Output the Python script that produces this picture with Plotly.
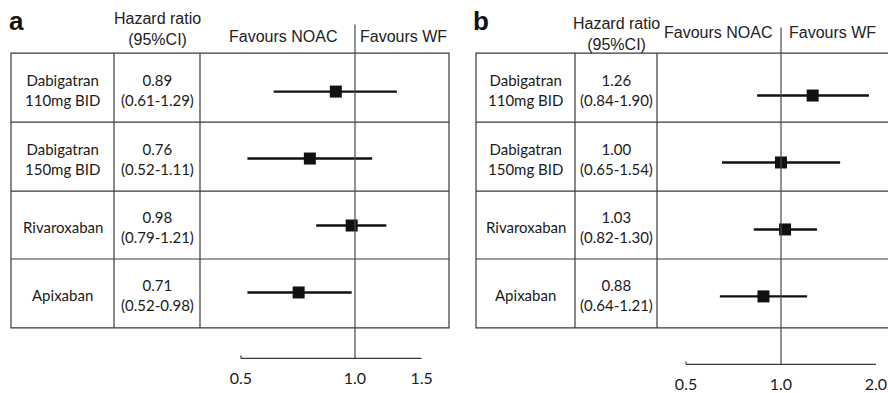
import plotly.graph_objects as go

# ---------------- data ----------------
drugs = ["Dabigatran<br>110mg BID", "Dabigatran<br>150mg BID", "Rivaroxaban", "Apixaban"]
rows = [0, 1, 2, 3]

hr_a = [0.89, 0.76, 0.98, 0.71]
lo_a = [0.61, 0.52, 0.79, 0.52]
hi_a = [1.29, 1.11, 1.21, 0.98]

hr_b = [1.26, 1.00, 1.03, 0.88]
lo_b = [0.84, 0.65, 0.82, 0.64]
hi_b = [1.90, 1.54, 1.30, 1.21]

ticks_a = [0.5, 1.0, 1.5]
ticks_b = [0.5, 1.0, 2.0]
ticktext_a = ["0.5", "1.0", "1.5"]
ticktext_b = ["0.5", "1.0", "2.0"]

header_hr = "Hazard ratio<br>(95%CI)"
fav_left = "Favours NOAC"
fav_right = "Favours WF"
panel_labels = ["a", "b"]

# ---------------- layout helpers ----------------
W, H = 888, 393
def px(x): return x / W
def py(y): return 1 - y / H

ARIAL = "Liberation Sans, Arial, sans-serif"
CALI = "Lato, Carlito, Calibri, sans-serif"
INK = "#1a1a1a"
LINE = "#3a3a3a"

fig = go.Figure()

def hr_labels(hr, lo, hi):
    return [f"{h:.2f}<br>({l:.2f}-{u:.2f})" for h, l, u in zip(hr, lo, hi)]

for hr, lo, hi, xa, ya in [(hr_a, lo_a, hi_a, "x", "y"), (hr_b, lo_b, hi_b, "x2", "y2")]:
    fig.add_trace(go.Scatter(
        x=hr, y=rows, mode="markers", xaxis=xa, yaxis=ya,
        marker=dict(symbol="square", size=12, color="#111111", line=dict(width=0)),
        error_x=dict(type="data", symmetric=False,
                     array=[u - h for h, u in zip(hr, hi)],
                     arrayminus=[h - l for h, l in zip(hr, lo)],
                     width=0, thickness=2.4, color="#111111"),
        showlegend=False, hoverinfo="skip"))

row_bounds = [54, 124, 194, 263, 333]
row_centers = [(row_bounds[i] + row_bounds[i + 1]) / 2 for i in range(4)]

shapes = []
annotations = []

panels = [
    dict(left=11, c1=114, c2=200, right=449, xref="x", ticks=ticks_a, ref_top=25, axis_y=364,
         label_x=16, hdr_y=29.5, fav_y=37, fav_r=339, fav_l=358,
         hr=hr_a, lo=lo_a, hi=hi_a),
    dict(left=476, c1=575, c2=657, right=891, xref="x2", ticks=ticks_b, ref_top=28, axis_y=370,
         label_x=481, hdr_y=34.5, fav_y=33.5, fav_r=774, fav_l=787,
         hr=hr_b, lo=lo_b, hi=hi_b),
]

for p, lab in zip(panels, panel_labels):
    # table frame
    shapes.append(dict(type="rect", xref="paper", yref="paper",
                       x0=px(p["left"]), x1=px(p["right"]), y0=py(row_bounds[-1]), y1=py(row_bounds[0]),
                       line=dict(color=LINE, width=1.2)))
    for cx in (p["c1"], p["c2"]):
        shapes.append(dict(type="line", xref="paper", yref="paper",
                           x0=px(cx), x1=px(cx), y0=py(row_bounds[-1]), y1=py(row_bounds[0]),
                           line=dict(color=LINE, width=1.2)))
    for ry in row_bounds[1:-1]:
        shapes.append(dict(type="line", xref="paper", yref="paper",
                           x0=px(p["left"]), x1=px(p["right"]), y0=py(ry), y1=py(ry),
                           line=dict(color=LINE, width=1.2)))
    # reference line at HR = 1
    shapes.append(dict(type="line", xref=p["xref"], yref="paper",
                       x0=1, x1=1, y0=py(p["axis_y"]), y1=py(p["ref_top"]),
                       line=dict(color="#4a4a4a", width=1.2)))
    shapes.append(dict(type="line", xref=p["xref"], yref="paper", xsizemode="pixel", xanchor=1,
                       x0=-3, x1=0, y0=py(p["ref_top"]), y1=py(p["ref_top"]),
                       line=dict(color="#4a4a4a", width=1.2)))
    # axis line
    shapes.append(dict(type="line", xref=p["xref"], yref="paper",
                       x0=p["ticks"][0], x1=p["ticks"][-1], y0=py(p["axis_y"]), y1=py(p["axis_y"]),
                       line=dict(color=LINE, width=1.2)))
    shapes.append(dict(type="line", xref=p["xref"], yref="paper",
                       x0=p["ticks"][0], x1=p["ticks"][0], y0=py(p["axis_y"]), y1=py(p["axis_y"] - 3),
                       line=dict(color=LINE, width=1.2)))

    # panel label
    annotations.append(dict(text=f"<b>{lab}</b>", x=px(p["label_x"]), y=py(21), xref="paper", yref="paper",
                            showarrow=False, xanchor="center", yanchor="middle",
                            font=dict(family=ARIAL, size=26, color="#111")))
    # headers
    annotations.append(dict(text=header_hr, x=px((p["c1"] + p["c2"]) / 2), y=py(p["hdr_y"]),
                            xref="paper", yref="paper", showarrow=False,
                            xanchor="center", yanchor="middle",
                            font=dict(family=ARIAL, size=16, color="#222")))
    annotations.append(dict(text=fav_left, x=px(p["fav_r"]), y=py(p["fav_y"]), xref="paper", yref="paper",
                            showarrow=False, xanchor="right", yanchor="middle",
                            font=dict(family=ARIAL, size=16, color="#222")))
    annotations.append(dict(text=fav_right, x=px(p["fav_l"]), y=py(p["fav_y"]), xref="paper", yref="paper",
                            showarrow=False, xanchor="left", yanchor="middle",
                            font=dict(family=ARIAL, size=16, color="#222")))
    # table cells
    for i, (name, hrt) in enumerate(zip(drugs, hr_labels(p["hr"], p["lo"], p["hi"]))):
        yc = py(row_centers[i] + 2)
        annotations.append(dict(text=name, x=px((p["left"] + p["c1"]) / 2), y=yc, xref="paper", yref="paper",
                                showarrow=False, xanchor="center", yanchor="middle",
                                font=dict(family=CALI, size=15, color=INK)))
        annotations.append(dict(text=hrt, x=px((p["c1"] + p["c2"]) / 2), y=yc, xref="paper", yref="paper",
                                showarrow=False, xanchor="center", yanchor="middle",
                                font=dict(family=CALI, size=15, color=INK)))

common_x = dict(type="log", showgrid=False, zeroline=False, showline=False, ticks="",
                tickfont=dict(family=CALI, size=16, color=INK), anchor="free", ticklabelstandoff=9)

fig.update_layout(
    width=W, height=H, margin=dict(l=0, r=0, t=0, b=0),
    paper_bgcolor="white", plot_bgcolor="rgba(0,0,0,0)",
    xaxis=dict(**common_x, domain=[200 / W, 449 / W], range=[-0.4092, 0.2482],
               tickvals=ticks_a, ticktext=ticktext_a, position=py(364)),
    yaxis=dict(domain=[0, 1], range=[4.4118, -1.3676], visible=False, anchor="x"),
    xaxis2=dict(**common_x, domain=[657 / W, 1.0], range=[-0.3930, 0.3392],
                tickvals=ticks_b, ticktext=ticktext_b, position=py(370)),
    yaxis2=dict(domain=[0, 1], range=[4.3529, -1.4265], visible=False, anchor="x2"),
    shapes=shapes, annotations=annotations,
)

fig.write_html("out.html", config={"displayModeBar": False},
               post_script="document.body.style.margin='0';document.body.style.overflow='hidden';")
